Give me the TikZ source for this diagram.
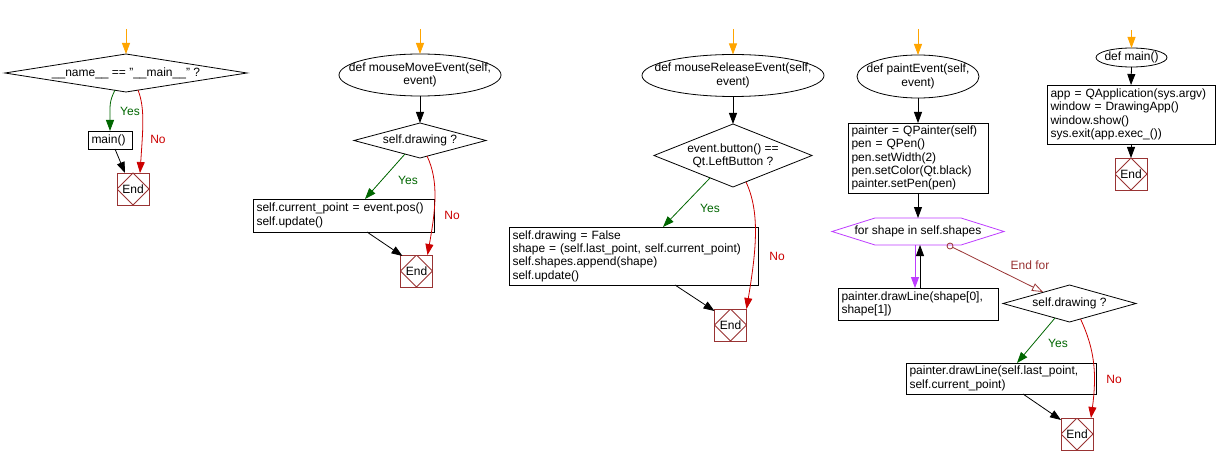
\documentclass[tikz,border=0pt]{standalone}
\usepackage{fontspec}
\setmainfont{Liberation Sans}
\usetikzlibrary{arrows.meta,shapes.geometric,calc}
\definecolor{cOrange}{RGB}{255,165,0}
\definecolor{cGreen}{RGB}{0,102,0}
\definecolor{cRed}{RGB}{204,0,0}
\definecolor{cBrown}{RGB}{153,51,51}
\definecolor{cPurple}{RGB}{190,60,255}
\begin{document}
\begin{tikzpicture}[x=1pt,y=-1pt,
  every node/.style={font=\fontsize{12}{13.3}\selectfont, outer sep=0pt},
  lw/.style={line width=0.8pt},
  arr/.style={lw,-{Triangle[length=11pt,width=8pt]}},
  proc/.style={rectangle, draw, lw, inner xsep=3.5pt, inner ysep=0pt, align=left},
  term/.style={ellipse, draw, lw, inner xsep=-20pt, inner ysep=0pt, align=center},
  cond/.style={rectangle, inner sep=0pt, align=center},
  endbox/.style={rectangle, draw=cBrown, lw, minimum size=32pt, inner sep=0pt,
     path picture={\draw[cBrown,lw] (path picture bounding box.north) -- (path picture bounding box.east) -- (path picture bounding box.south) -- (path picture bounding box.west) -- cycle;}},
  yesarr/.style={arr, draw=cGreen},
  noarr/.style={arr, draw=cRed},
  yeslab/.style={text=cGreen},
  nolab/.style={text=cRed}
]
\fill[white] (0,0) rectangle (1217,465);
\useasboundingbox (0,0) rectangle (1217,465);

% ---------- flow 1
\coordinate (s1) at (126,29);
\node[cond, minimum width=242pt, minimum height=38pt] (d1) at (126,73) {\_\_name\_\_ == \char34\_\_main\_\_\char34{} ?};
\node[proc, text width=37pt, minimum height=18pt] (m1) at (110,140) {main()};
\node[endbox] (E1) at (133,189) {End};

% ---------- flow 2
\coordinate (s2) at (420,29);
\node[term, inner xsep=-60pt, minimum width=162pt, minimum height=42pt] (t2) at (420,75) {def mouseMoveEvent(self,\\event)};
\node[cond, minimum width=132pt, minimum height=35pt] (d2) at (420,140.5) {self.drawing ?};
\node[proc, text width=174pt, minimum height=33pt] (r2) at (343.5,215.5) {self.current\_point = event.pos()\\self.update()};
\node[endbox] (E2) at (416.5,271) {End};

% ---------- flow 3
\coordinate (s3) at (733,29);
\node[term, inner xsep=-70pt, minimum width=182pt, minimum height=42pt] (t3) at (733,75.5) {def mouseReleaseEvent(self,\\event)};
\node[cond, minimum width=158pt, minimum height=63pt] (d3) at (733,155.5) {event.button() ==\\Qt.LeftButton ?};
\node[proc, text width=242pt, minimum height=58pt] (r3) at (633.5,256) {self.drawing = False\\shape = (self.last\_point, self.current\_point)\\self.shapes.append(shape)\\self.update()};
\node[endbox] (E3) at (730.5,325) {End};

% ---------- flow 4
\coordinate (s4) at (918,29);
\node[term, inner xsep=-45pt, minimum width=122pt, minimum height=43pt] (t4) at (918,76.5) {def paintEvent(self,\\event)};
\node[proc, text width=133pt, minimum height=70pt] (r4) at (918,158) {painter = QPainter(self)\\pen = QPen()\\pen.setWidth(2)\\pen.setColor(Qt.black)\\painter.setPen(pen)};
\node[cond, minimum width=172pt, minimum height=27pt] (h4) at (918,231.5) {for shape in self.shapes};
\node[proc, text width=153pt, minimum height=32pt] (r5) at (918,304) {painter.drawLine(shape[0],\\shape[1])};
\node[cond, minimum width=133pt, minimum height=37pt] (d5) at (1069.5,303.5) {self.drawing ?};
\node[proc, text width=183pt, minimum height=31pt] (r6) at (1001,378.5) {painter.drawLine(self.last\_point,\\self.current\_point)};
\node[endbox] (E5) at (1077,434) {End};
\coordinate (c4) at ($(h4.south)+(32,1)$);

% ---------- flow 5
\coordinate (s5) at (1131.5,30);
\node[term, inner xsep=-15pt, minimum width=71pt, minimum height=19pt] (t5) at (1131.5,57.5) {def main()};
\node[proc, text width=161pt, minimum height=59pt] (r7) at (1131,114.5) {app = QApplication(sys.argv)\\window = DrawingApp()\\window.show()\\sys.exit(app.exec\_())};
\node[endbox] (E7) at (1131,174) {End};

% ---------- diamond and hexagon outlines
\foreach \n in {d1,d2,d3,d5}
  \draw[lw] (\n.north) -- (\n.east) -- (\n.south) -- (\n.west) -- cycle;
\draw[lw, cPurple] (h4.west) -- ($(h4.north west)+(43,0)$) -- ($(h4.north east)+(-43,0)$) -- (h4.east) -- ($(h4.south east)+(-43,0)$) -- ($(h4.south west)+(43,0)$) -- cycle;

% ---------- start arrows
\draw[arr, cOrange] (s1) -- (d1.north);
\draw[arr, cOrange] (s2) -- (t2.north);
\draw[arr, cOrange] (s3) -- (t3.north);
\draw[arr, cOrange] (s4) -- (t4.north);
\draw[arr, cOrange] (s5) -- (t5.north);

% ---------- flow 1 edges
\draw[yesarr] ($(d1.south)+(-11,-2)$) .. controls +(-6,12) and +(0,-25) .. (m1.north);
\draw[noarr] ($(d1.south)+(12,-2)$) .. controls +(7,18) and +(3,-45) .. ($(E1.north)+(7,0)$);
\draw[arr] ($(m1.south)+(5,0)$) -- ($(E1.north)+(-8,0)$);
\node[yeslab] (y1) at (130,111) {Yes};
\node[nolab] (n1) at (158,139) {No};

% ---------- flow 2 edges
\draw[arr] (t2.south) -- (d2.north);
\draw[yesarr] ($(d2.south)+(-15,-4)$) -- ($(r2.north)+(21.5,0)$);
\draw[noarr] ($(d2.south)+(7,-2)$) .. controls +(12,25) and +(8,-45) .. ($(E2.north east)+(-5,0)$);
\draw[arr] ($(r2.south)+(23.5,0)$) -- ($(E2.north west)+(2,1)$);
\node[yeslab] (y2) at (408,180) {Yes};
\node[nolab] (n2) at (452,215) {No};

% ---------- flow 3 edges
\draw[arr] (t3.south) -- (d3.north);
\draw[yesarr] ($(d3.south)+(-23,-9)$) -- ($(r3.north)+(29.5,0)$);
\draw[noarr] ($(d3.south)+(13,-5)$) .. controls +(14,30) and +(10,-60) .. (E3.north east);
\draw[arr] ($(r3.south)+(41.5,0)$) -- ($(E3.north west)+(0,2)$);
\node[yeslab] (y3) at (710,208) {Yes};
\node[nolab] (n3) at (777,256) {No};

% ---------- flow 4 edges
\draw[arr] (t4.south) -- (r4.north);
\draw[arr] (r4.south) -- (h4.north);
\draw[arr, cPurple] ($(h4.south)+(-3,0)$) -- ($(r5.north)+(-3,0)$);
\draw[arr] ($(r5.north)+(2,0)$) -- ($(h4.south)+(2,0)$);
\draw[lw, cBrown] (c4) circle[radius=3pt];
\draw[lw, cBrown, shorten <=3pt, -{Triangle[open,length=11pt,width=8pt]}] (c4) -- ($(d5.north)+(-26.5,7)$);
\node[text=cBrown] (ef) at (1030,265) {End for};
\draw[yesarr] ($(d5.south)+(-14.5,-4)$) -- ($(r6.north)+(16,0)$);
\draw[noarr] ($(d5.south)+(11,-3)$) .. controls +(14,30) and +(6,-45) .. ($(E5.north east)+(-2,0)$);
\draw[arr] ($(r6.south)+(22,0)$) -- ($(E5.north west)+(0,2)$);
\node[yeslab] (y5) at (1058,343) {Yes};
\node[nolab] (n5) at (1114,379) {No};

% ---------- flow 5 edges
\draw[arr] (t5.south) -- (r7.north);
\draw[arr] (r7.south) -- (E7.north);
\end{tikzpicture}
\end{document}
